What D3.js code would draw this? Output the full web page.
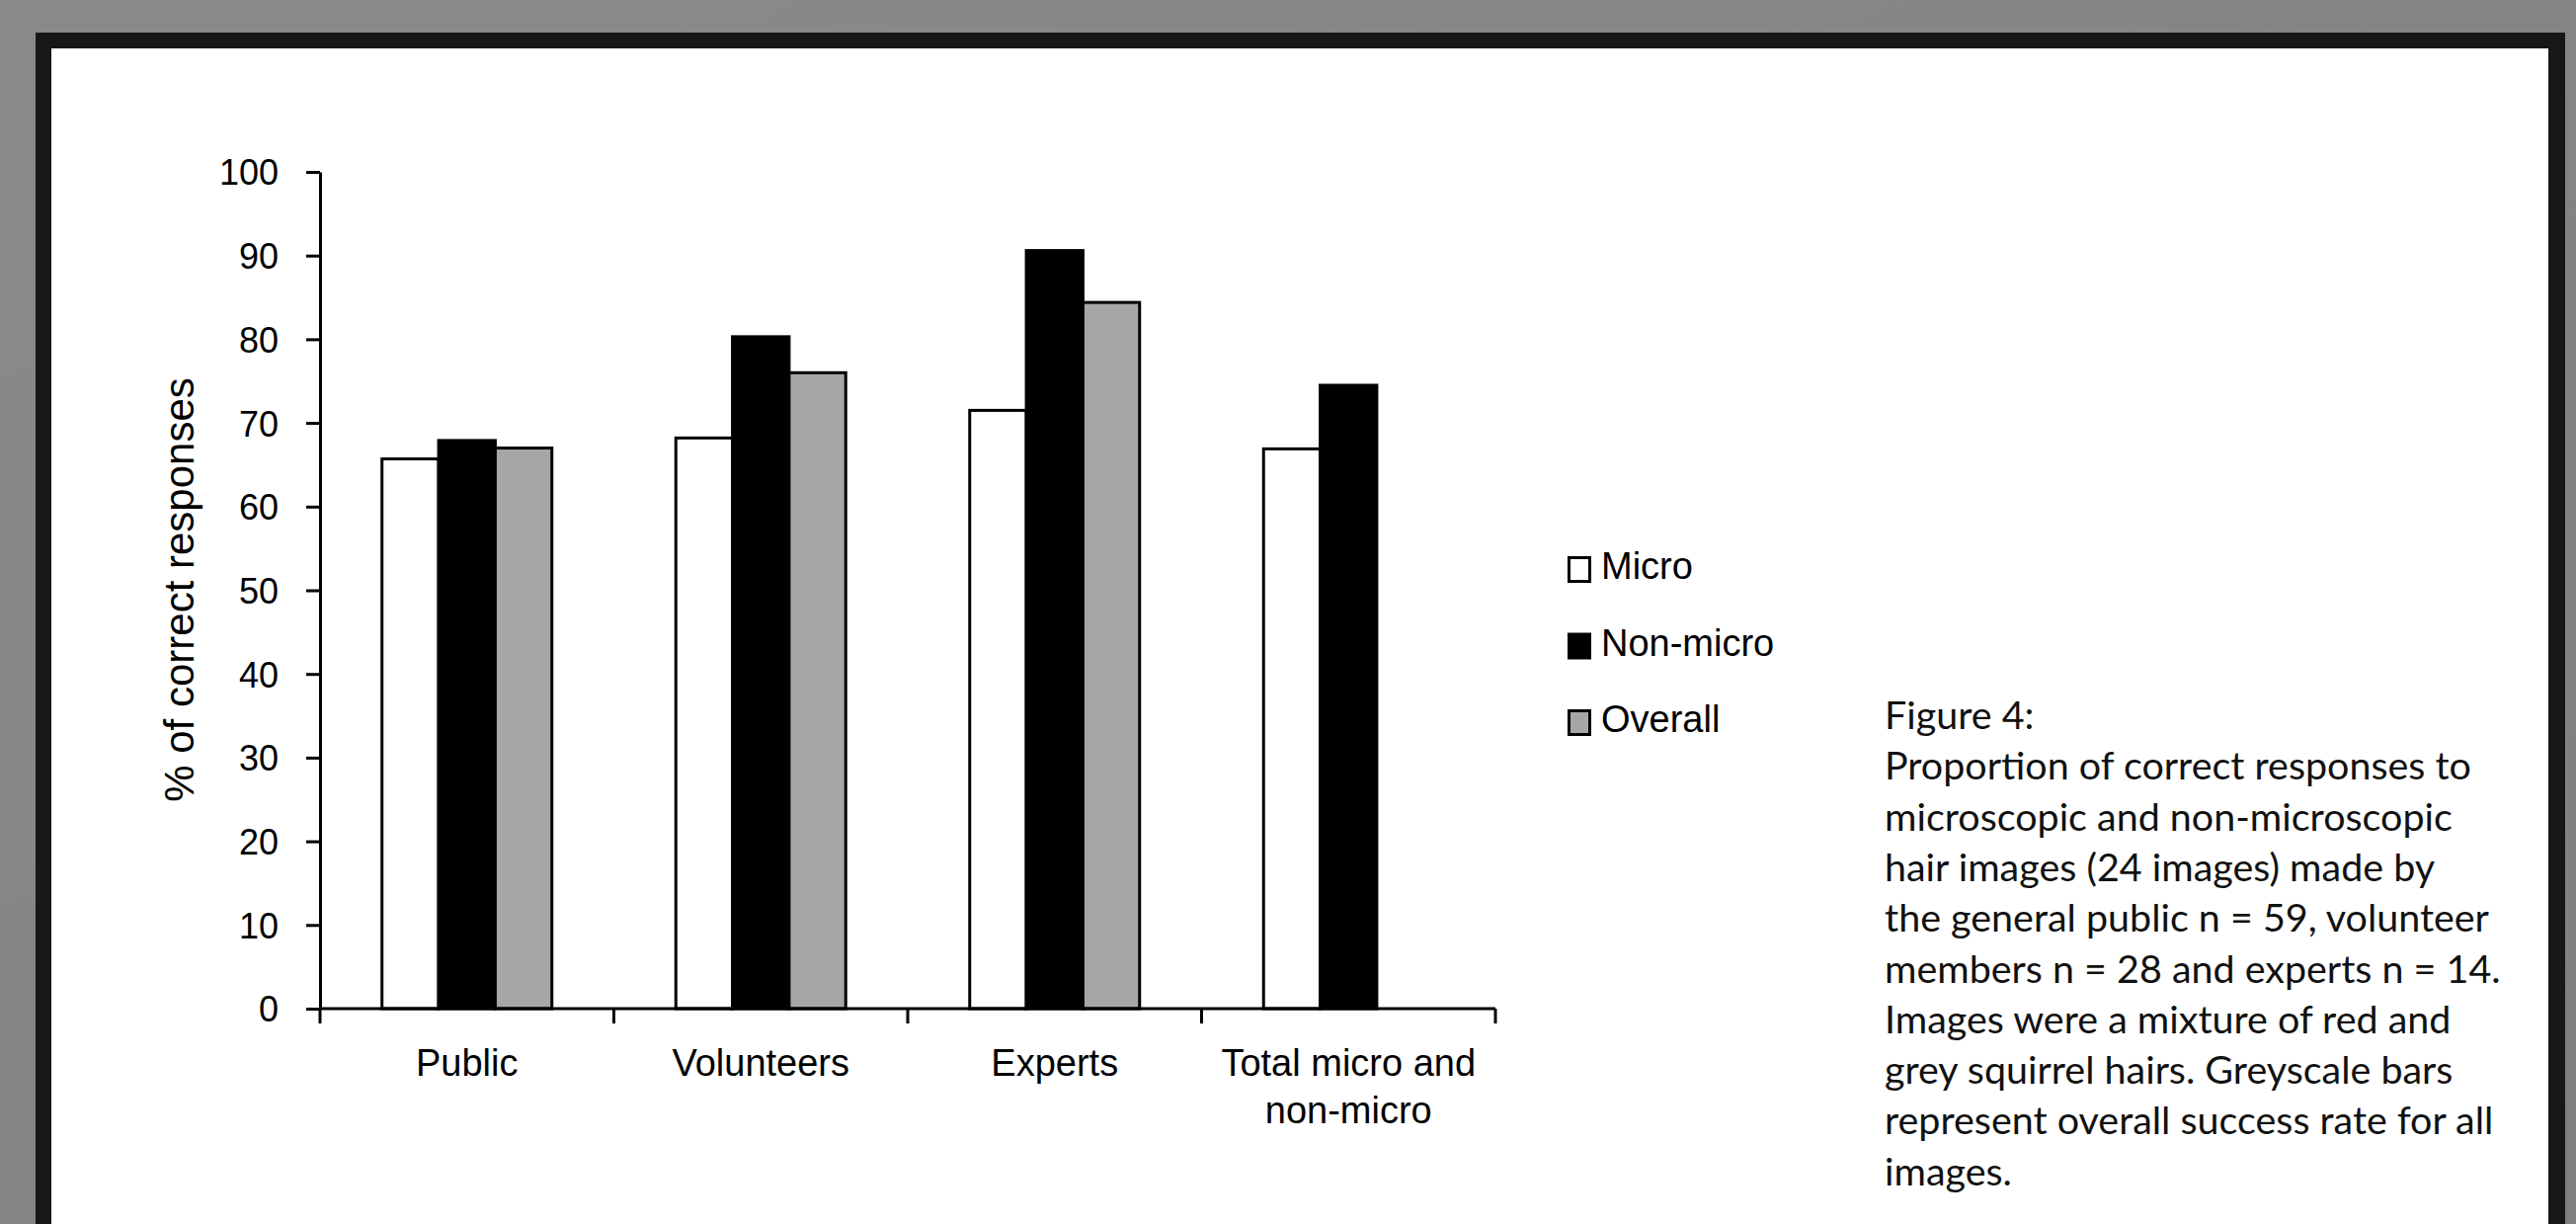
<!DOCTYPE html>
<html>
<head>
<meta charset="utf-8">
<script src="https://cdn.jsdelivr.net/npm/d3@7"></script>
<style>
  html, body { margin: 0; padding: 0; background: #858585; overflow: hidden; }
  svg { display: block; }
</style>
</head>
<body>
<svg id="chart" width="2608" height="1239"></svg>
<script>
// ---- data ----
const categories = ["Public", "Volunteers", "Experts", "Total micro and\nnon-micro"];
const seriesNames = ["Micro", "Non-micro", "Overall"];
const microValues = [65.7, 68.2, 71.5, 66.9];
const nonMicroValues = [67.9, 80.3, 90.6, 74.5];
const overallValues = [67.0, 76.0, 84.4, null];
const yTicks = [0, 10, 20, 30, 40, 50, 60, 70, 80, 90, 100];
const yTitle = "% of correct responses";
const captionLines = [
  "Figure 4:",
  "Proportion of correct responses to",
  "microscopic and non-microscopic",
  "hair images (24 images) made by",
  "the general public n = 59, volunteer",
  "members n = 28 and experts n = 14.",
  "Images were a mixture of red and",
  "grey squirrel hairs. Greyscale bars",
  "represent overall success rate for all",
  "images."
];

const seriesValues = [microValues, nonMicroValues, overallValues];
const fills = { "Micro": "#ffffff", "Non-micro": "#000000", "Overall": "#a6a6a6" };

const svg = d3.select("#chart");

// ---- background / frame ----
const defs = svg.append("defs");
const grad = defs.append("linearGradient").attr("id", "bg").attr("x1", 0).attr("y1", 0).attr("x2", 1).attr("y2", 1);
grad.append("stop").attr("offset", "0%").attr("stop-color", "#8a8a8a");
grad.append("stop").attr("offset", "100%").attr("stop-color", "#7f7f7f");
svg.append("rect").attr("x", 0).attr("y", 0).attr("width", 2608).attr("height", 1239).attr("fill", "url(#bg)");
svg.append("rect").attr("x", 36).attr("y", 33).attr("width", 2561).attr("height", 1250).attr("fill", "#171717");
svg.append("rect").attr("x", 52).attr("y", 49).attr("width", 2528).attr("height", 1250).attr("fill", "#ffffff");

// ---- scales ----
const plotLeft = 324, plotRight = 1514, plotTop = 174, plotBottom = 1021;
const x = d3.scaleBand().domain(categories).range([plotLeft, plotRight]).paddingInner(0).paddingOuter(0);
const groupW = 175;
const groupOff = (x.bandwidth() - groupW) / 2;
const xSub = d3.scaleBand().domain(seriesNames).range([groupOff + 1.5, groupOff + groupW - 1.5]);
const y = d3.scaleLinear().domain([0, 100]).range([plotBottom, plotTop]);

const chartFont = "'Liberation Sans', Arial, sans-serif";

// ---- bars ----
const barData = [];
categories.forEach((c, i) => {
  seriesNames.forEach((s, j) => {
    const v = seriesValues[j][i];
    if (v !== null && v !== undefined) barData.push({ cat: c, series: s, value: v });
  });
});
svg.append("g").selectAll("rect").data(barData).join("rect")
  .attr("x", d => x(d.cat) + xSub(d.series))
  .attr("y", d => y(d.value))
  .attr("width", xSub.bandwidth())
  .attr("height", d => y(0) - y(d.value))
  .attr("fill", d => fills[d.series])
  .attr("stroke", "#000")
  .attr("stroke-width", 3);

// ---- y axis ----
const yAxis = svg.append("g").attr("transform", `translate(${plotLeft},0)`)
  .call(d3.axisLeft(y).tickValues(yTicks).tickSize(14).tickSizeOuter(0).tickPadding(28));
yAxis.select(".domain").attr("stroke", "#000").attr("stroke-width", 3);
yAxis.selectAll(".tick line").attr("stroke", "#000").attr("stroke-width", 3);
yAxis.selectAll(".tick text").attr("font-family", chartFont).attr("font-size", 36).attr("fill", "#000")
  .attr("dy", "0.36em");

// ---- x axis ----
const xAxisG = svg.append("g");
xAxisG.append("line").attr("x1", plotLeft).attr("x2", plotRight)
  .attr("y1", y(0)).attr("y2", y(0)).attr("stroke", "#000").attr("stroke-width", 3);
const boundaries = categories.map(c => x(c)).concat([x(categories[categories.length - 1]) + x.bandwidth()]);
xAxisG.selectAll("line.tk").data(boundaries).join("line").attr("class", "tk")
  .attr("x1", d => d).attr("x2", d => d)
  .attr("y1", y(0)).attr("y2", y(0) + 15)
  .attr("stroke", "#000").attr("stroke-width", 3);
const xl = xAxisG.selectAll("text.xl").data(categories).join("text").attr("class", "xl")
  .attr("x", d => x(d) + x.bandwidth() / 2)
  .attr("y", 1089)
  .attr("text-anchor", "middle")
  .attr("font-family", chartFont).attr("font-size", 38).attr("fill", "#000");
xl.each(function(d) {
  const lines = d.split("\n");
  const t = d3.select(this);
  lines.forEach((ln, k) => {
    t.append("tspan").attr("x", x(d) + x.bandwidth() / 2).attr("dy", k === 0 ? 0 : 48).text(ln);
  });
});

// ---- y title ----
svg.append("text")
  .attr("transform", `translate(196,597) rotate(-90)`)
  .attr("text-anchor", "middle")
  .attr("font-family", chartFont).attr("font-size", 42).attr("fill", "#000")
  .text(yTitle);

// ---- legend ----
const legend = svg.append("g").attr("transform", "translate(1587,563)");
const lg = legend.selectAll("g").data(seriesNames).join("g")
  .attr("transform", (d, i) => `translate(0,${i * 77.5})`);
lg.append("rect").attr("x", 1.5).attr("y", 1.5).attr("width", 21).attr("height", 24)
  .attr("fill", d => fills[d]).attr("stroke", "#000").attr("stroke-width", 3);
lg.append("text").attr("x", 34).attr("y", 23)
  .attr("font-family", chartFont).attr("font-size", 38).attr("fill", "#000")
  .text(d => d);

// ---- caption ----
const capFont = "Lato, 'Open Sans', sans-serif";
const cap = svg.append("g");
const capText = cap.append("text").attr("font-family", capFont).attr("font-size", 42).attr("fill", "#111");
capText.selectAll("tspan").data(captionLines).join("tspan")
  .attr("x", 1908).attr("y", (d, i) => 738 + i * 51.3).text(d => d);
// fit font size so the reference line width (~594px) matches
const refSpan = capText.selectAll("tspan").nodes()[1];
const len = refSpan.getComputedTextLength();
if (len > 0) capText.attr("font-size", 42 * 594 / len);
</script>
</body>
</html>
